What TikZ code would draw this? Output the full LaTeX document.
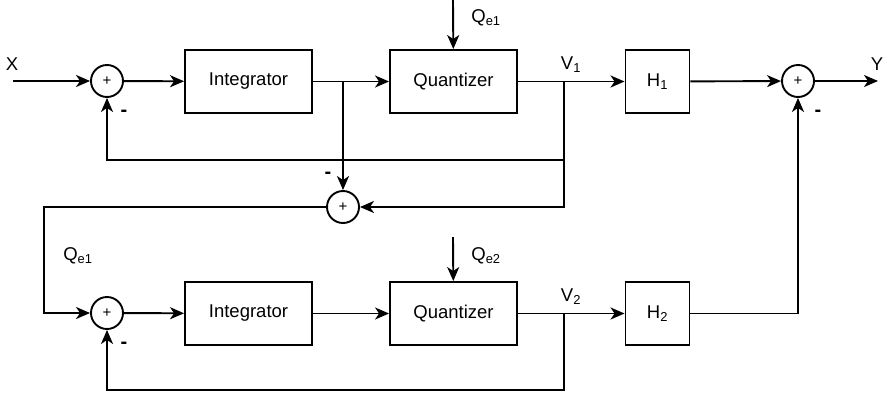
\documentclass[tikz,border=0pt]{standalone}
\usepackage{fontspec}
\setmainfont{Liberation Sans}
\usetikzlibrary{arrows.meta}
\begin{document}
\begin{tikzpicture}[x=1pt,y=-1pt,
  line width=1.9pt,
  font=\fontsize{18.5}{22}\selectfont,
  blk/.style={draw,minimum width=127pt,minimum height=63pt,inner sep=0pt},
  hblk/.style={draw,minimum width=64pt,minimum height=63pt,inner sep=0pt},
  sumn/.style={draw,circle,minimum size=32pt,inner sep=0pt,font=\fontsize{15}{17}\selectfont},
  arr/.style={-{Stealth[length=14pt,width=12pt,inset=4pt]}},
  minus/.style={font=\fontsize{20}{22}\selectfont\bfseries},
  lbl/.style={inner sep=0pt}]
\useasboundingbox (0,0) rectangle (885,394);
% top row
\coordinate (xin) at (13,81);
\node[sumn] (s1) at (107,81) {+};
\node[blk] (i1) at (248.5,81.5) {Integrator};
\node[blk] (q1) at (453.5,81.5) {Quantizer};
\node[hblk] (h1) at (657.5,81.5) {H\textsubscript{1}};
\node[sumn] (sr) at (798,81) {+};
\coordinate (yout) at (878,81);
\coordinate (b1) at (343,81);
\coordinate (v1) at (564,81);
\coordinate (qin1) at (453,0);
\coordinate (fb1) at (564,160);
\node[sumn] (sm) at (343,207) {+};
\coordinate (lm) at (44,207);
% bottom row
\node[sumn] (s2) at (107,313) {+};
\node[blk] (i2) at (248.5,313.5) {Integrator};
\node[blk] (q2) at (453.5,313.5) {Quantizer};
\node[hblk] (h2) at (657.5,313.5) {H\textsubscript{2}};
\coordinate (v2) at (564,313);
\coordinate (qin2) at (453,237);
\coordinate (fb2) at (564,390);
% labels
\node[lbl] (lx) at (12,64) {X};
\node[lbl] (ly) at (877,64) {Y};
\node[lbl] (lv1) at (571,65) {V\textsubscript{1}};
\node[lbl] (lv2) at (571,297) {V\textsubscript{2}};
\node[lbl] (lq1) at (486,18) {Q\textsubscript{e1}};
\node[lbl] (lq2) at (486,256) {Q\textsubscript{e2}};
\node[lbl] (lq3) at (78,256) {Q\textsubscript{e1}};
\node[minus] (m1) at (124,113) {-};
\node[minus] (m2) at (328,175) {-};
\node[minus] (m3) at (818,113) {-};
\node[minus] (m4) at (124,345) {-};
% top connectors
\draw[arr] (xin) -- (s1);
\draw[arr] (s1) -- (i1);
\draw[arr] (i1) -- (q1);
\draw[arr] (q1) -- (h1);
\draw[arr] (h1) -- (sr);
\draw[arr] (sr) -- (yout);
\draw[arr] (qin1) -- (q1);
\draw[arr] (v1) |- (s1.south |- fb1) -- (s1);
\draw[arr] (b1) -- (sm);
\draw[arr] (v1) |- (sm);
\draw[arr] (sm) -- (lm) |- (s2);
% bottom connectors
\draw[arr] (s2) -- (i2);
\draw[arr] (i2) -- (q2);
\draw[arr] (q2) -- (h2);
\draw[arr] (qin2) -- (q2);
\draw[arr] (v2) |- (s2.south |- fb2) -- (s2);
\draw[arr] (h2) -| (sr);
\end{tikzpicture}
\end{document}
